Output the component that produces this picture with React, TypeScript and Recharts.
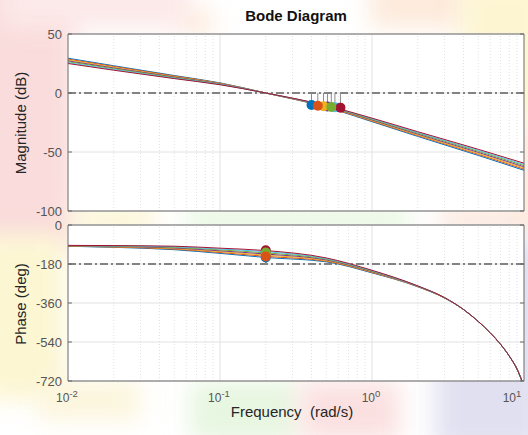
import { CartesianGrid, ComposedChart, Line, ReferenceLine, Scatter, XAxis, YAxis } from 'recharts'

// frequencies (rad/s) the curves were read at
const magFreq = [0.01, 0.02, 0.05, 0.1, 0.2, 0.5, 1, 2, 5, 10]
const phaseFreq = [0.01, 0.02, 0.05, 0.1, 0.2, 0.5, 1, 2, 3, 4, 5, 6, 7, 8, 9, 10]

const seriesColors = ['#0072BD', '#D95319', '#EDB120', '#7E2F8E', '#77AC30', '#4DBEEE', '#A2142F']

// magnitude (dB)
const mag1 = [29.5, 23.1, 14.8, 8.6, 0, -12.0, -24.3, -36.8, -52.9, -65.5]
const mag2 = [28.7, 22.5, 14.4, 8.3, 0, -11.8, -23.8, -36.1, -52.0, -64.5]
const mag3 = [28.0, 21.8, 13.9, 8.1, 0, -11.5, -23.3, -35.5, -51.2, -63.5]
const mag4 = [27.2, 21.2, 13.5, 7.8, 0, -11.3, -22.8, -34.8, -50.3, -62.5]
const mag5 = [26.5, 20.6, 13.1, 7.5, 0, -11.1, -22.3, -34.1, -49.4, -61.5]
const mag6 = [25.7, 19.9, 12.6, 7.3, 0, -10.8, -21.8, -33.5, -48.6, -60.5]
const mag7 = [25.0, 19.3, 12.2, 7.0, 0, -10.6, -21.3, -32.8, -47.7, -59.5]

// phase (deg)
const ph1 = [-98, -103, -114, -131, -150, -170, -221, -285, -337, -390, -445, -498, -550, -605, -665, -745]
const ph2 = [-97.3, -101.7, -111.3, -127, -144.7, -167, -219, -284.3, -336.7, -390, -445, -498, -550, -605, -665, -745]
const ph3 = [-96.7, -100.3, -108.7, -123, -139.3, -164, -217, -283.7, -336.3, -390, -445, -498, -550, -605, -665, -745]
const ph4 = [-96, -99, -106, -119, -134, -161, -215, -283, -336, -390, -445, -498, -550, -605, -665, -745]
const ph5 = [-95.3, -97.7, -103.3, -115, -128.7, -158, -213, -282.3, -335.7, -390, -445, -498, -550, -605, -665, -745]
const ph6 = [-94.7, -96.3, -100.7, -111, -123.3, -155, -211, -281.7, -335.3, -390, -445, -498, -550, -605, -665, -745]
const ph7 = [-94, -95, -98, -107, -118, -152, -209, -281, -335, -390, -445, -498, -550, -605, -665, -745]

// stability margin markers
const gmFreq = [0.4, 0.44, 0.48, 0.51, 0.54, 0.57, 0.62]
const gmMag = [-10.2, -10.8, -11.2, -11.5, -11.8, -12.1, -12.4]
const pmFreq = [0.2, 0.2, 0.2, 0.2, 0.2, 0.2, 0.2]
const pmPhase = [-150, -145, -139, -133, -127, -122, -117]

const magSeries = [mag1, mag2, mag3, mag4, mag5, mag6, mag7]
const phaseSeries = [ph1, ph2, ph3, ph4, ph5, ph6, ph7]

// stacking order of the margin markers (later = on top)
const gmOrder = [3, 5, 6, 2, 0, 1, 4]
const pmOrder = [3, 5, 6, 2, 0, 4, 1]

const decadeTicks = [0.01, 0.1, 1, 10]
const decadeExps = ['-2', '-1', '0', '1']
const minorTicks = [
  0.02, 0.03, 0.04, 0.05, 0.06, 0.07, 0.08, 0.09,
  0.2, 0.3, 0.4, 0.5, 0.6, 0.7, 0.8, 0.9,
  2, 3, 4, 5, 6, 7, 8, 9,
]
const allFreqTicks = [...decadeTicks, ...minorTicks].sort((a, b) => a - b)
const magTicks = [-100, -50, 0, 50]
const phaseTicks = [-720, -540, -360, -180, 0]

const FONT = '"Liberation Sans", Arial, Helvetica, sans-serif'
const AXIS = '#6b6b6b'
const TICK_TEXT = '#555'
const GRID = '#e2e2e2'
const REF = '#5e5e5e'

const NoTick = () => <g />

function PowerTick(props: any) {
  const { x, y, payload } = props
  const idx = decadeTicks.indexOf(payload.value)
  const dx = payload.value === 10 ? -8 : -1
  return (
    <text x={x + dx} y={y + 21} textAnchor="middle" fill={TICK_TEXT} fontSize={12} fontFamily={FONT}>
      10
      <tspan dy={-5} fontSize={9.5}>
        {decadeExps[idx]}
      </tspan>
    </text>
  )
}

function Dot(props: any) {
  const { cx, cy, fill } = props
  return <circle cx={cx} cy={cy} r={5} fill={fill} />
}

function frame(domain: number[], ticks: number[]) {
  return [
    <XAxis key="xb" xAxisId="xb" type="number" scale="log" domain={[0.01, 10]} allowDataOverflow mirror orientation="bottom"
      ticks={allFreqTicks} tickSize={3} tick={NoTick} stroke={AXIS} />,
    <XAxis key="xt" xAxisId="xt" type="number" scale="log" domain={[0.01, 10]} allowDataOverflow mirror orientation="top"
      ticks={allFreqTicks} tickSize={3} tick={NoTick} stroke={AXIS} />,
    <YAxis key="yl" yAxisId="yl" type="number" domain={domain} allowDataOverflow mirror orientation="left"
      ticks={ticks} tickSize={4} tick={NoTick} stroke={AXIS} />,
    <YAxis key="yr" yAxisId="yr" type="number" domain={domain} allowDataOverflow mirror orientation="right"
      ticks={ticks} tickSize={4} tick={NoTick} stroke={AXIS} />,
  ]
}

function freqGrid() {
  return [
    ...minorTicks.map((f) => (
      <ReferenceLine key={'m' + f} x={f} stroke="#dadada" strokeDasharray="1 2" strokeWidth={0.8} />
    )),
    ...[0.1, 1].map((f) => <ReferenceLine key={'d' + f} x={f} stroke={GRID} strokeWidth={1} />),
  ]
}

function MagnitudePlot() {
  return (
    <ComposedChart width={528} height={220} margin={{ top: 34, right: 4, bottom: 9, left: 8 }}>
      <CartesianGrid fill="#fff" vertical={false} stroke={GRID} />
      <XAxis dataKey="f" type="number" scale="log" domain={[0.01, 10]} allowDataOverflow hide height={0} />
      <YAxis type="number" domain={[-100, 50]} allowDataOverflow ticks={magTicks} width={60}
        tickLine={false} axisLine={false} tickSize={0} tickMargin={6}
        tick={{ fill: TICK_TEXT, fontSize: 13, fontFamily: FONT }} />
      {freqGrid()}
      <ReferenceLine y={0} stroke={REF} strokeWidth={1.4} strokeDasharray="8 3 2 3" />
      {frame([-100, 50], magTicks)}
      {magSeries.map((vals, k) => (
        <Line key={'mag' + k} data={magFreq.map((f, i) => ({ f, v: vals[i] }))} dataKey="v" type="monotone"
          stroke={seriesColors[k]} strokeWidth={1} dot={false} isAnimationActive={false} />
      ))}
      {gmFreq.map((f, k) => (
        <ReferenceLine key={'gm' + k} segment={[{ x: f, y: 0 }, { x: f, y: gmMag[k] }]} stroke="#8a8a8a" strokeWidth={1} />
      ))}
      {gmOrder.map((k) => (
        <Scatter key={'gms' + k} data={[{ f: gmFreq[k], v: gmMag[k] }]} dataKey="v" fill={seriesColors[k]} shape={Dot} isAnimationActive={false} />
      ))}
    </ComposedChart>
  )
}

function PhasePlot() {
  return (
    <ComposedChart width={528} height={220} margin={{ top: 10, right: 4, bottom: 24, left: 8 }}>
      <CartesianGrid fill="#fff" vertical={false} stroke={GRID} />
      <XAxis dataKey="f" type="number" scale="log" domain={[0.01, 10]} allowDataOverflow ticks={decadeTicks}
        height={30} tickLine={false} axisLine={false} tickSize={0} tickMargin={0} tick={PowerTick} />
      <YAxis type="number" domain={[-720, 0]} allowDataOverflow ticks={phaseTicks} width={60}
        tickLine={false} axisLine={false} tickSize={0} tickMargin={6}
        tick={{ fill: TICK_TEXT, fontSize: 13, fontFamily: FONT }} />
      {freqGrid()}
      <ReferenceLine y={-180} stroke={REF} strokeWidth={1.4} strokeDasharray="8 3 2 3" />
      {frame([-720, 0], phaseTicks)}
      {phaseSeries.map((vals, k) => (
        <Line key={'ph' + k} data={phaseFreq.map((f, i) => ({ f, v: vals[i] }))} dataKey="v" type="monotone"
          stroke={seriesColors[k]} strokeWidth={1} dot={false} isAnimationActive={false} />
      ))}
      {pmFreq.map((f, k) => (
        <ReferenceLine key={'pm' + k} segment={[{ x: f, y: -180 }, { x: f, y: pmPhase[k] }]} stroke="#8a8a8a" strokeWidth={1} />
      ))}
      {pmOrder.map((k) => (
        <Scatter key={'pms' + k} data={[{ f: pmFreq[k], v: pmPhase[k] }]} dataKey="v" fill={seriesColors[k]} shape={Dot} isAnimationActive={false} />
      ))}
    </ComposedChart>
  )
}

const blobs = [
  { left: -30, top: -30, width: 105, height: 280, background: '#fadcdc' },
  { left: 0, top: -20, width: 190, height: 48, background: '#fce9e9' },
  { left: 182, top: 12, width: 30, height: 22, background: '#fde6d6' },
  { left: 370, top: -20, width: 100, height: 48, background: '#fdeadb' },
  { left: 460, top: -20, width: 90, height: 140, background: '#fdf5d2' },
  { left: 515, top: 120, width: 40, height: 110, background: '#fde8dc' },
  { left: -20, top: 235, width: 85, height: 165, background: '#fcf6d2' },
  { left: 70, top: 205, width: 85, height: 28, background: '#fcf5d4' },
  { left: 185, top: 205, width: 225, height: 28, background: '#e9f8e2' },
  { left: 440, top: 205, width: 100, height: 28, background: '#fde9de' },
  { left: 40, top: 380, width: 100, height: 40, background: '#fcf5dc' },
  { left: 190, top: 381, width: 110, height: 60, background: '#e7f6e0' },
  { left: 300, top: 381, width: 100, height: 60, background: '#fbe0e0' },
  { left: 435, top: 240, width: 110, height: 210, background: '#e1e0f0' },
]

export default function App() {
  return (
    <div style={{ position: 'absolute', left: 0, top: 0, width: 528, height: 435, overflow: 'hidden', background: '#fff', fontFamily: FONT }}>
      {blobs.map((b, i) => (
        <div key={i} style={{ position: 'absolute', ...b, filter: 'blur(12px)' }} />
      ))}
      <div style={{ position: 'absolute', left: 68, width: 456, top: 7, textAlign: 'center', fontWeight: 'bold', fontSize: 15, lineHeight: '18px', color: '#111' }}>
        Bode Diagram
      </div>
      <div style={{ position: 'absolute', left: 0, top: 0 }}>
        <MagnitudePlot />
      </div>
      <div style={{ position: 'absolute', left: 0, top: 215 }}>
        <PhasePlot />
      </div>
      <div style={{ position: 'absolute', left: 21 - 100, top: 122.5 - 10, width: 200, height: 20, lineHeight: '20px', textAlign: 'center', fontSize: 15, color: '#262626', transform: 'rotate(-90deg)' }}>
        Magnitude (dB)
      </div>
      <div style={{ position: 'absolute', left: 21 - 100, top: 304 - 10, width: 200, height: 20, lineHeight: '20px', textAlign: 'center', fontSize: 15, color: '#262626', transform: 'rotate(-90deg)' }}>
        Phase (deg)
      </div>
      <div style={{ position: 'absolute', left: 292 - 150, width: 300, top: 403, textAlign: 'center', fontSize: 15, lineHeight: '18px', color: '#262626', whiteSpace: 'pre' }}>
        {'Frequency  (rad/s)'}
      </div>
    </div>
  )
}
